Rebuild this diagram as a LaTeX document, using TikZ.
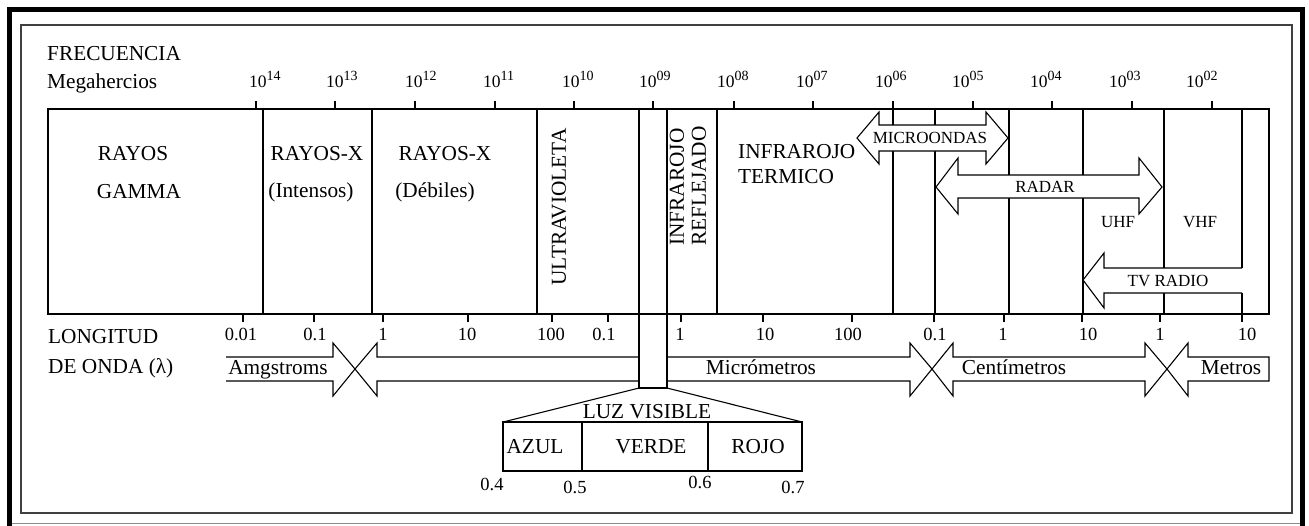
\documentclass[tikz,border=0pt]{standalone}
\usepackage{fontspec}
\setmainfont{Liberation Serif}
\newcommand\pw[1]{10\raisebox{7pt}{\fontsize{14}{14}\selectfont #1}}
\tikzset{
  lbl/.style={inner sep=0pt, font=\fontsize{21.3}{22}\selectfont},
  num/.style={inner sep=0pt, font=\fontsize{18.5}{20}\selectfont, anchor=base},
  sml/.style={inner sep=0pt, font=\fontsize{17}{19}\selectfont},
  ln/.style={line width=1.3pt},
  arr/.style={line width=1.1pt, fill=white, line join=miter},
}
\begin{document}
\begin{tikzpicture}[x=1pt,y=-1pt]
\useasboundingbox (0,0) rectangle (1309,525);
% frames
\draw[line width=5pt] (9.5,9.5) rectangle (1302.5,530);
\draw[line width=0.8pt, black!45] (12,523) -- (1300,523);
\draw[line width=1.2pt, black!75] (21,25) rectangle (1292,513);
% headings
\node[lbl, anchor=base west] (frec) at (47,60) {FRECUENCIA};
\node[lbl, anchor=base west] (mega) at (47,88) {Megahercios};
\node[lbl, anchor=base west] (longi) at (48,343) {LONGITUD};
\node[lbl, anchor=base west] (onda) at (48,373) {DE ONDA (λ)};
% top ticks and labels
\foreach \xx in {256,335,415,495,574,653,734,813,893,973,1052,1132,1212}
  \draw[ln] (\xx,101) -- (\xx,109);
\foreach \xx/\e in {249/14,326/13,405/12,483/11,562/10,639/09,717/08,796/07,875/06,952/05,1030/04,1109/03,1186/02}
  \node[inner sep=0pt, anchor=base west, font=\fontsize{17.5}{19}\selectfont] (p\e) at (\xx,87) {\pw{\e}};
% main box
\draw[ln] (48,109) rectangle (1269,314);
\foreach \xx in {263,372,537,717,893,935,1009,1083,1164}
  \draw[ln] (\xx,109) -- (\xx,314);
\draw[ln] (1242,109) -- (1242,268);
\draw[ln] (1242,293) -- (1242,314);
% bottom ticks and labels
\foreach \xx in {243,314,383,468,552,608,681,763,852,934,1004,1082,1160,1242}
  \draw[ln] (\xx,314) -- (\xx,322);
\foreach \xx/\lab [count=\i] in {241/0.01,315/0.1,383/1,467/10,551/100,604/0.1,680/1,765/10,848/100,935/0.1,1003/1,1088/10,1160/1,1247/10}
  \node[num] (w\i) at (\xx,340) {\lab};
% region labels
\node[lbl, anchor=base] (rg1) at (133,160) {RAYOS};
\node[lbl, anchor=base] (rg2) at (139,198) {GAMMA};
\node[lbl, anchor=base] (rx1) at (317,160) {RAYOS-X};
\node[lbl, anchor=base] (rx2) at (311,197) {(Intensos)};
\node[lbl, anchor=base] (rd1) at (445,160) {RAYOS-X};
\node[lbl, anchor=base] (rd2) at (435,197) {(Débiles)};
\node[lbl, rotate=90] (uv) at (559,207) {ULTRAVIOLETA};
\node[lbl, rotate=90, align=left] (irr) at (688,186) {INFRAROJO\\REFLEJADO};
\node[lbl, anchor=base west] (irt1) at (738,158) {INFRAROJO};
\node[lbl, anchor=base west] (irt2) at (738,183) {TERMICO};
% microondas
\draw[arr] (857,138) -- (879,112) -- (879,125) -- (986,125) -- (986,112) -- (1008,138) -- (986,164) -- (986,151) -- (879,151) -- (879,164) -- cycle;
\node[sml] (micro) at (930,138) {MICROONDAS};
% radar
\draw[arr] (936,187) -- (958,158) -- (958,175) -- (1139,175) -- (1139,158) -- (1162,187) -- (1139,214) -- (1139,198) -- (958,198) -- (958,214) -- cycle;
\node[sml] (radar) at (1045,187) {RADAR};
\node[sml] (uhf) at (1118,222) {UHF};
\node[sml] (vhf) at (1200,222) {VHF};
% tv radio
\fill[white] (1083,280) -- (1104,253) -- (1104,268) -- (1242,268) -- (1242,293) -- (1104,293) -- (1104,308) -- cycle;
\draw[arr, fill=none] (1242,268) -- (1104,268) -- (1104,253) -- (1083,280) -- (1104,308) -- (1104,293) -- (1242,293);
\node[sml] (tv) at (1168,281) {TV RADIO};
% wavelength arrows
\draw[arr, fill=none] (226,357) -- (333,357) -- (333,343) -- (355,369) -- (333,396) -- (333,381) -- (226,381);
\draw[arr] (355,369) -- (377,343) -- (377,357) -- (910,357) -- (910,343) -- (932,369) -- (910,396) -- (910,381) -- (377,381) -- (377,396) -- cycle;
\draw[arr] (932,369) -- (953,343) -- (953,357) -- (1145,357) -- (1145,343) -- (1167,369) -- (1145,396) -- (1145,381) -- (953,381) -- (953,396) -- cycle;
\draw[arr] (1167,369) -- (1188,343) -- (1188,357) -- (1269,357) -- (1269,381) -- (1188,381) -- (1188,396) -- cycle;
\node[lbl, anchor=base] (amg) at (278,374) {Amgstroms};
\node[lbl, anchor=base] (mic) at (761,374) {Micrómetros};
\node[lbl, anchor=base] (cen) at (1014,374) {Centímetros};
\node[lbl, anchor=base] (met) at (1231,374) {Metros};
% visible column
\fill[white] (640,315) rectangle (666,387);
\draw[ln] (639,109) -- (639,388) -- (667,388) -- (667,109);
% visible light detail
\draw[line width=1.1pt] (639,388) -- (503,422);
\draw[line width=1.1pt] (667,388) -- (802,422);
\draw[ln] (503,422) rectangle (802,471);
\draw[ln] (582,422) -- (582,471);
\draw[ln] (708,422) -- (708,471);
\node[lbl, anchor=base, fill=white, inner xsep=1pt] (luz) at (647,418) {LUZ VISIBLE};
\node[lbl, anchor=base] (azul) at (535,453) {AZUL};
\node[lbl, anchor=base] (verde) at (651,453) {VERDE};
\node[lbl, anchor=base] (rojo) at (758,453) {ROJO};
\node[num] (v4) at (492,490) {0.4};
\node[num] (v5) at (575,493) {0.5};
\node[num] (v6) at (700,488) {0.6};
\node[num] (v7) at (793,493) {0.7};
\end{tikzpicture}
\end{document}
